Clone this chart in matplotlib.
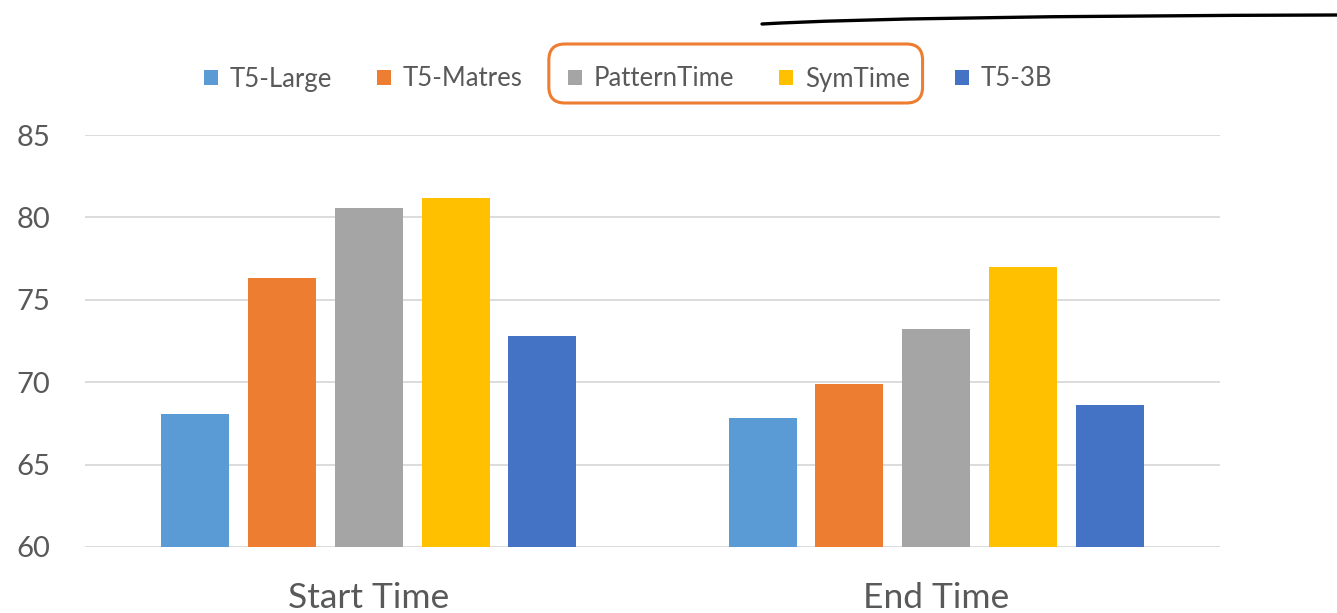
import matplotlib
matplotlib.use("Agg")
import matplotlib.pyplot as plt
import numpy as np
from matplotlib.patches import FancyBboxPatch, Patch, PathPatch
from matplotlib.path import Path

plt.rcParams['font.family'] = ['Lato', 'DejaVu Sans']

categories = ["Start Time", "End Time"]
series_names = ["T5-Large", "T5-Matres", "PatternTime", "SymTime", "T5-3B"]
series_values = {
    "T5-Large":    [68.1, 67.8],
    "T5-Matres":   [76.3, 69.9],
    "PatternTime": [80.6, 73.2],
    "SymTime":     [81.2, 77.0],
    "T5-3B":       [72.8, 68.6],
}
colors = ["#5B9BD5", "#ED7D31", "#A5A5A5", "#FFC000", "#4472C4"]
y_ticks = [60, 65, 70, 75, 80, 85]

W, H = 1337, 613
fig = plt.figure(figsize=(W / 100, H / 100), dpi=100)
ax = fig.add_axes([85 / W, 1 - 547 / H, (1220 - 85) / W, (547 - 135) / H])

x = np.arange(len(categories))
bar_w = 0.12
step = 0.153
for i, name in enumerate(series_names):
    offs = (i - 2) * step
    ax.bar(x + offs, series_values[name], width=bar_w, color=colors[i], zorder=3)

ax.set_xlim(-0.5, 1.5)
ax.set_ylim(60, 85)
ax.set_yticks(y_ticks)
ax.set_xticks(x)
ax.set_xticklabels(categories)
ax.grid(axis='y', color='#D9D9D9', linewidth=1.3, zorder=0)
for s in ax.spines.values():
    s.set_visible(False)
ax.tick_params(axis='both', length=0, colors='#595959')
ax.tick_params(axis='y', labelsize=21, pad=25)
ax.tick_params(axis='x', labelsize=25.5, pad=25)

handles = [Patch(facecolor=c, edgecolor='none') for c in colors]
leg = fig.legend(handles, series_names, loc='center', ncol=5,
                 bbox_to_anchor=(628 / W, 1 - 79 / H), frameon=False,
                 fontsize=18.5, handlelength=0.55, handleheight=0.55,
                 handletextpad=0.45, columnspacing=1.75, labelcolor='#595959')

# rounded frame around the two highlighted legend entries
fig.canvas.draw()
r = fig.canvas.get_renderer()
texts = leg.get_texts()
patches = leg.get_patches()
x0 = patches[2].get_window_extent(r).x0
x1 = texts[3].get_window_extent(r).x1
x0, x1 = x0 - 19, x1 + 13
y0, y1 = 1 - 103 / H, 1 - 44 / H
box = FancyBboxPatch((x0 / W, y0), (x1 - x0) / W, y1 - y0,
                     boxstyle="round,pad=0,rounding_size=0.012",
                     transform=fig.transFigure, fill=False,
                     edgecolor='#ED7D31', linewidth=2.2, mutation_aspect=W / H)
fig.add_artist(box)

# pen stroke across the top right
verts = [(762 / W, 1 - 24 / H), (900 / W, 1 - 16 / H), (1337 / W, 1 - 15 / H)]
stroke = PathPatch(Path(verts, [Path.MOVETO, Path.CURVE3, Path.CURVE3]),
                   transform=fig.transFigure, fill=False,
                   edgecolor='black', linewidth=2.4, capstyle='round')
fig.add_artist(stroke)

fig.savefig("out.png", dpi=100)
